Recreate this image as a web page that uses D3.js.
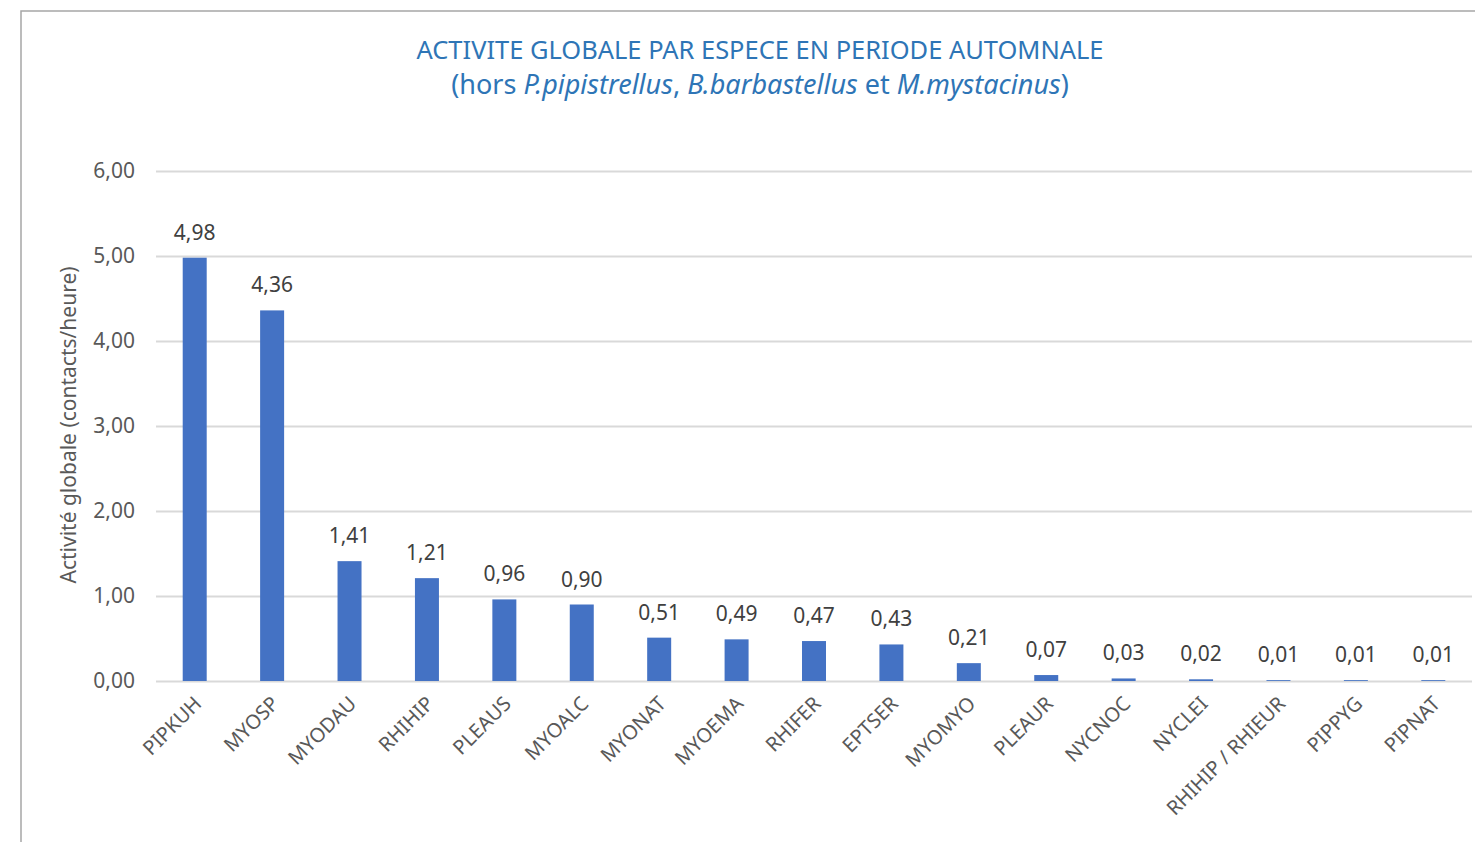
<!DOCTYPE html>
<html>
  <head>
    <meta charset="utf-8" />
    <script src="https://d3js.org/d3.v7.min.js"></script>
    <style>
      body { margin: 0; background: #fff; }
      svg { display: block; font-family: "Noto Sans", "Open Sans", sans-serif; }
    </style>
  </head>
  <body>
    <svg width="1475" height="842"></svg>

    <script type="text/javascript">
      // chart data
      var species = ["PIPKUH", "MYOSP", "MYODAU", "RHIHIP", "PLEAUS", "MYOALC", "MYONAT", "MYOEMA",
        "RHIFER", "EPTSER", "MYOMYO", "PLEAUR", "NYCNOC", "NYCLEI", "RHIHIP / RHIEUR", "PIPPYG", "PIPNAT"];
      var activity = [4.98, 4.36, 1.41, 1.21, 0.96, 0.90, 0.51, 0.49, 0.47, 0.43, 0.21, 0.07, 0.03, 0.02, 0.01, 0.01, 0.01];
      var yTicks = [0, 1, 2, 3, 4, 5, 6];

      var fr = d3.formatLocale({ decimal: ",", thousands: " ", grouping: [3], currency: ["", " €"] });
      var fmt = fr.format(".2f");

      var svg = d3.select("svg");
      var margin = { left: 156, right: 3, top: 171, bottom: 161 };
      var width = 1475 - margin.left - margin.right;
      var height = 842 - margin.top - margin.bottom;

      // outer frame (cut off at right / bottom like the screenshot)
      svg.append("rect")
        .attr("x", 21).attr("y", 11)
        .attr("width", 1600).attr("height", 1000)
        .attr("fill", "none")
        .attr("stroke", "#a6a6a6")
        .attr("stroke-width", 1.5);

      // title
      var title = svg.append("text")
        .attr("x", 760).attr("text-anchor", "middle")
        .attr("fill", "#2e75b6")
        .style("font-size", "25.5px");
      title.append("tspan").attr("x", 760).attr("y", 59)
        .attr("textLength", 687).attr("lengthAdjust", "spacingAndGlyphs")
        .text("ACTIVITE GLOBALE PAR ESPECE EN PERIODE AUTOMNALE");
      var t2 = title.append("tspan").attr("x", 760).attr("y", 94).style("font-size", "27px");
      t2.append("tspan").text("(hors ");
      t2.append("tspan").attr("font-style", "italic").text("P.pipistrellus");
      t2.append("tspan").text(", ");
      t2.append("tspan").attr("font-style", "italic").text("B.barbastellus");
      t2.append("tspan").text(" et ");
      t2.append("tspan").attr("font-style", "italic").text("M.mystacinus");
      t2.append("tspan").text(")");

      var g = svg.append("g")
        .attr("transform", "translate(" + margin.left + "," + margin.top + ")");

      var x = d3.scaleBand().domain(species).range([0, width]).paddingInner(0.69).paddingOuter(0.345);
      var y = d3.scaleLinear().domain([0, 6]).range([height, 0]);

      // gridlines + y labels
      var yAxis = g.append("g")
        .call(d3.axisLeft(y).tickValues(yTicks).tickSize(-width).tickFormat(fmt).tickPadding(21));
      yAxis.select(".domain").remove();
      yAxis.selectAll(".tick line").attr("stroke", "#d9d9d9").attr("stroke-width", 2);
      yAxis.selectAll(".tick text")
        .attr("fill", "#595959")
        .style("font-size", "21px")
        .style("font-family", "'Noto Sans', sans-serif");

      // bars
      g.selectAll(".bar")
        .data(activity)
        .enter()
        .append("rect")
        .attr("class", "bar")
        .attr("x", function (d, i) { return x(species[i]); })
        .attr("y", function (d) { return y(d); })
        .attr("width", x.bandwidth())
        .attr("height", function (d) { return height - y(d); })
        .attr("fill", "#4472c4");

      // value labels
      g.selectAll(".val")
        .data(activity)
        .enter()
        .append("text")
        .attr("class", "val")
        .attr("x", function (d, i) { return x(species[i]) + x.bandwidth() / 2; })
        .attr("y", function (d) { return y(d) - 18; })
        .attr("text-anchor", "middle")
        .attr("fill", "#404040")
        .style("font-size", "21px")
        .text(function (d) { return fmt(d); });

      // x axis labels
      var xAxis = g.append("g")
        .attr("transform", "translate(0," + height + ")")
        .call(d3.axisBottom(x).tickSize(0).tickPadding(0));
      xAxis.select(".domain").remove();
      xAxis.selectAll(".tick text")
        .attr("fill", "#595959")
        .style("font-size", "20px")
        .style("font-family", "'Noto Sans', sans-serif")
        .attr("text-anchor", "end")
        .attr("dy", 0)
        .attr("transform", "translate(8,24) rotate(-45)");

      // y axis title
      svg.append("text")
        .attr("transform", "translate(76,425) rotate(-90)")
        .attr("text-anchor", "middle")
        .attr("fill", "#595959")
        .style("font-size", "21px")
        .text("Activité globale (contacts/heure)");
    </script>
  </body>
</html>
